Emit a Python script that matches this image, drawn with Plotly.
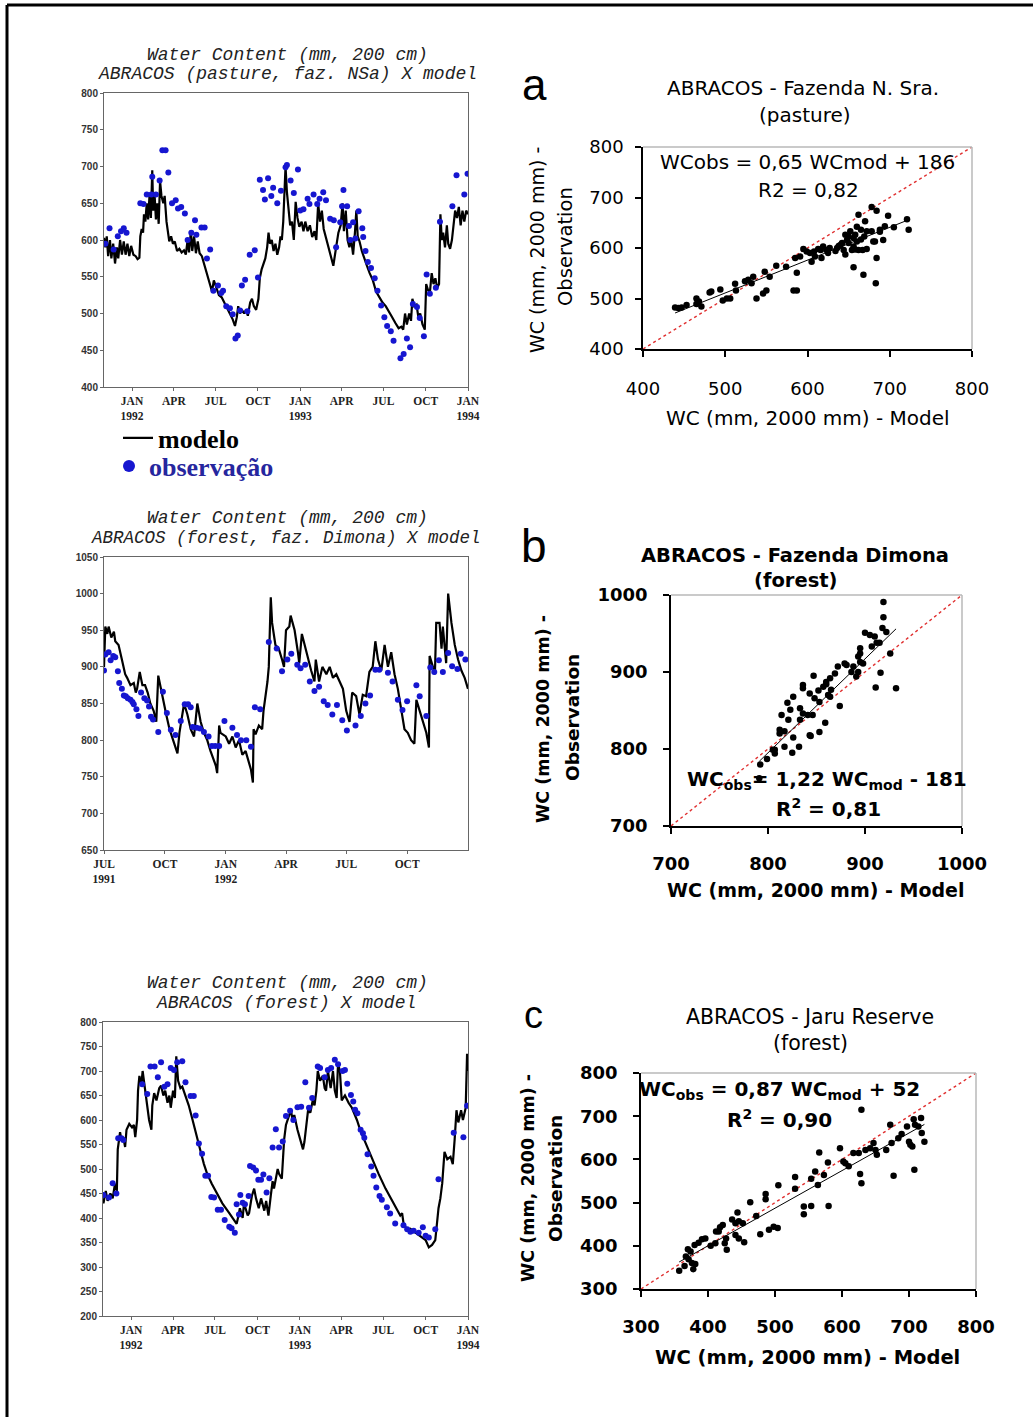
import plotly.graph_objects as go

W, H = 1033, 1417

# ---------------- séries temporais (GrADS) ----------------
# Fazenda N. Sra. (pastagem) - modelo
nsa_mod_dates = ["1991-11-01","1991-11-04","1991-11-07","1991-11-10","1991-11-14","1991-11-17","1991-11-21","1991-11-25","1991-11-29",
                 "1991-12-02","1991-12-06","1991-12-10","1991-12-14","1991-12-18","1991-12-22","1991-12-26","1991-12-30",
                 "1992-01-04","1992-01-09","1992-01-13","1992-01-17","1992-01-19","1992-01-22","1992-01-25","1992-01-27","1992-01-30",
                 "1992-02-02","1992-02-05","1992-02-08","1992-02-11","1992-02-14","1992-02-16","1992-02-19","1992-02-22","1992-02-25","1992-02-28",
                 "1992-03-02","1992-03-05","1992-03-09","1992-03-12","1992-03-16","1992-03-19","1992-03-22","1992-03-26","1992-03-30",
                 "1992-04-03","1992-04-08","1992-04-13","1992-04-18","1992-04-23","1992-04-27","1992-05-01","1992-05-04","1992-05-08",
                 "1992-05-11","1992-05-15","1992-05-19","1992-05-23","1992-05-27","1992-06-01","1992-06-07","1992-06-13","1992-06-19",
                 "1992-06-23","1992-06-27","1992-07-02","1992-07-08","1992-07-14","1992-07-20","1992-07-26","1992-08-01","1992-08-07",
                 "1992-08-12","1992-08-16","1992-08-19","1992-08-23","1992-08-27","1992-09-01","1992-09-05","1992-09-09","1992-09-14",
                 "1992-09-18","1992-09-22","1992-09-27","1992-10-02","1992-10-05","1992-10-09","1992-10-13","1992-10-17","1992-10-21",
                 "1992-10-24","1992-10-27","1992-10-31","1992-11-04","1992-11-08","1992-11-12","1992-11-16","1992-11-19","1992-11-22",
                 "1992-11-25","1992-11-28","1992-11-30","1992-12-03","1992-12-06","1992-12-10","1992-12-14","1992-12-18","1992-12-22",
                 "1992-12-26","1992-12-30","1993-01-04","1993-01-08","1993-01-12","1993-01-17","1993-01-22","1993-01-27","1993-02-01",
                 "1993-02-05","1993-02-09","1993-02-13","1993-02-17","1993-02-21","1993-02-25","1993-03-03","1993-03-09","1993-03-14",
                 "1993-03-20","1993-03-25","1993-03-30","1993-04-03","1993-04-06","1993-04-10","1993-04-14","1993-04-18","1993-04-22",
                 "1993-04-26","1993-04-30","1993-05-03","1993-05-06","1993-05-10","1993-05-15","1993-05-20","1993-05-26","1993-06-01",
                 "1993-06-08","1993-06-15","1993-06-22","1993-06-29","1993-07-06","1993-07-13","1993-07-20","1993-07-27","1993-08-03",
                 "1993-08-09","1993-08-13","1993-08-17","1993-08-21","1993-08-26","1993-08-30","1993-09-02","1993-09-06","1993-09-11",
                 "1993-09-15","1993-09-19","1993-09-24","1993-09-29","1993-10-02","1993-10-06","1993-10-10","1993-10-14","1993-10-18",
                 "1993-10-22","1993-10-26","1993-10-30","1993-11-02","1993-11-05","1993-11-08","1993-11-12","1993-11-16","1993-11-19",
                 "1993-11-23","1993-11-27","1993-12-01","1993-12-04","1993-12-08","1993-12-12","1993-12-16","1993-12-20","1993-12-24",
                 "1993-12-28","1994-01-01"]
nsa_mod_vals = [603,590,605,578,600,575,595,568,590,
                575,600,580,598,580,595,578,592,
                580,578,574,576,605,615,610,635,625,
                650,628,660,630,695,640,662,628,650,622,
                680,660,650,660,625,610,598,605,595,
                598,585,588,583,586,580,600,583,612,
                585,605,582,598,582,578,565,552,540,
                530,545,535,525,522,515,508,500,492,
                483,495,510,500,505,500,505,497,515,
                520,510,505,520,548,560,568,575,590,
                610,595,600,585,595,580,590,605,600,
                625,660,700,665,640,620,625,600,652,
                630,618,625,612,625,612,620,604,612,
                600,650,625,640,615,605,590,578,565,
                590,610,620,650,612,640,600,590,600,
                580,610,640,605,598,585,575,565,555,
                545,530,522,515,510,503,495,487,480,
                482,478,500,485,500,490,520,510,512,
                495,500,485,478,540,532,528,555,540,
                548,535,540,635,600,610,590,620,595,
                588,600,625,640,630,645,620,640,625,
                640,635]

# Fazenda N. Sra. - observação
nsa_obs_dates = ["1991-11-04","1991-11-13","1991-11-22","1991-12-01","1991-12-08","1991-12-14","1991-12-20","1992-01-19","1992-01-26",
                 "1992-02-02","1992-02-12","1992-02-14","1992-02-22","1992-03-01","1992-03-07","1992-03-14","1992-03-20","1992-03-28",
                 "1992-04-05","1992-04-10","1992-04-17","1992-04-25","1992-05-01","1992-05-09","1992-05-17","1992-05-20","1992-05-31",
                 "1992-06-07","1992-06-12","1992-06-19","1992-06-26","1992-07-06","1992-07-13","1992-07-17","1992-07-24","1992-08-01",
                 "1992-08-07","1992-08-13","1992-08-18","1992-08-23","1992-08-27","1992-09-03","1992-09-08","1992-09-13","1992-09-24",
                 "1992-10-01","1992-10-05","1992-10-12","1992-10-16","1992-10-23","1992-10-30","1992-11-03","1992-11-12","1992-11-20",
                 "1992-11-30","1992-12-03","1992-12-11","1992-12-18","1992-12-27","1993-01-01","1993-01-08","1993-01-17","1993-01-21",
                 "1993-01-30","1993-02-07","1993-02-12","1993-02-20","1993-02-26","1993-03-07","1993-03-15","1993-03-20","1993-03-29",
                 "1993-04-02","1993-04-05","1993-04-13","1993-04-17","1993-04-20","1993-04-26","1993-05-01","1993-05-08","1993-05-16",
                 "1993-05-18","1993-05-23","1993-05-28","1993-06-04","1993-06-12","1993-06-18","1993-06-26","1993-07-03","1993-07-09",
                 "1993-07-17","1993-07-23","1993-08-07","1993-08-14","1993-08-21","1993-08-28","1993-09-03","1993-09-12","1993-09-18",
                 "1993-09-27","1993-10-03","1993-10-10","1993-10-23","1993-11-01","1993-11-28","1993-12-07","1993-12-24","1993-12-31"]
nsa_obs_vals = [595,616,587,605,612,616,610,650,649,
                662,662,686,662,681,722,722,692,650,
                654,643,645,636,600,610,627,607,617,
                617,575,587,531,538,528,531,510,507,
                499,466,470,504,538,546,503,580,586,
                549,682,668,655,684,660,671,650,667,
                699,702,681,664,696,640,642,656,649,
                662,649,656,665,654,629,627,590,624,
                646,668,646,619,600,624,602,639,616,
                604,585,570,562,548,531,511,495,483,
                476,463,439,445,466,454,513,509,494,
                469,553,527,535,625,646,688,662,690]

# Fazenda Dimona (floresta) - modelo
dim_mod_dates = ["1991-07-01","1991-07-03","1991-07-06","1991-07-08","1991-07-12","1991-07-16","1991-07-18","1991-07-23","1991-07-28",
                 "1991-08-02","1991-08-05","1991-08-10","1991-08-15","1991-08-18","1991-08-20","1991-08-24","1991-08-28","1991-09-01",
                 "1991-09-05","1991-09-09","1991-09-14","1991-09-18","1991-09-21","1991-09-27","1991-10-03","1991-10-08","1991-10-13",
                 "1991-10-18","1991-10-20","1991-10-23","1991-10-30","1991-11-04","1991-11-09","1991-11-14","1991-11-19","1991-11-24",
                 "1991-11-29","1991-12-04","1991-12-09","1991-12-17","1991-12-19","1991-12-22","1991-12-24","1992-01-01","1992-01-06",
                 "1992-01-11","1992-01-16","1992-01-21","1992-01-26","1992-01-31","1992-02-08","1992-02-11","1992-02-12","1992-02-15",
                 "1992-02-20","1992-02-25","1992-02-27","1992-03-04","1992-03-06","1992-03-09","1992-03-11","1992-03-16","1992-03-21",
                 "1992-03-26","1992-03-29","1992-04-01","1992-04-06","1992-04-08","1992-04-14","1992-04-19","1992-04-21","1992-04-25",
                 "1992-04-29","1992-05-04","1992-05-09","1992-05-14","1992-05-16","1992-05-21","1992-05-26","1992-06-01","1992-06-06",
                 "1992-06-11","1992-06-16","1992-06-21","1992-06-26","1992-07-01","1992-07-06","1992-07-10","1992-07-16","1992-07-21",
                 "1992-07-26","1992-07-31","1992-08-05","1992-08-10","1992-08-14","1992-08-18","1992-08-23","1992-08-28","1992-09-02",
                 "1992-09-07","1992-09-12","1992-09-17","1992-09-22","1992-09-27","1992-10-02","1992-10-07","1992-10-12","1992-10-15",
                 "1992-10-20","1992-10-25","1992-10-30","1992-11-03","1992-11-04","1992-11-09","1992-11-12","1992-11-14","1992-11-19",
                 "1992-11-22","1992-11-24","1992-11-29","1992-12-02","1992-12-07","1992-12-12","1992-12-17","1992-12-22","1992-12-27",
                 "1993-01-01"]
dim_mod_vals = [900,955,945,955,940,948,935,930,910,
                890,885,875,878,865,870,893,875,875,
                865,850,840,825,888,860,835,815,800,
                785,782,810,850,835,815,805,850,825,
                810,800,785,765,755,820,810,805,795,
                805,790,800,780,785,760,742,815,808,
                820,815,840,880,900,995,960,930,925,
                910,900,950,955,970,950,920,905,945,
                930,915,895,880,910,880,900,890,900,
                885,890,880,870,840,825,865,860,835,
                862,860,893,900,935,910,895,930,900,
                920,890,870,840,815,810,800,795,855,
                840,825,810,790,915,900,890,960,960,
                925,955,905,1000,960,930,910,895,885,
                870]

# Fazenda Dimona - observação
dim_obs_dates = ["1991-07-01","1991-07-03","1991-07-08","1991-07-11","1991-07-15","1991-07-18","1991-07-22","1991-07-24","1991-07-28",
                 "1991-07-31","1991-08-03","1991-08-06","1991-08-10","1991-08-13","1991-08-15","1991-08-19","1991-08-22","1991-08-26",
                 "1991-08-31","1991-09-04","1991-09-07","1991-09-10","1991-09-13","1991-09-21","1991-09-28","1991-10-04","1991-10-10",
                 "1991-10-17","1991-10-25","1991-10-31","1991-11-05","1991-11-09","1991-11-12","1991-11-18","1991-11-23","1991-11-29",
                 "1991-12-06","1991-12-11","1991-12-16","1991-12-22","1991-12-30","1992-01-11","1992-01-18","1992-01-24","1992-02-01",
                 "1992-02-08","1992-02-14","1992-02-22","1992-03-06","1992-03-18","1992-03-26","1992-04-03","1992-04-09","1992-04-18",
                 "1992-04-23","1992-04-30","1992-05-07","1992-05-14","1992-05-21","1992-05-28","1992-06-03","1992-06-10","1992-06-17",
                 "1992-06-25","1992-07-02","1992-07-15","1992-07-23","1992-07-30","1992-08-06","1992-08-14","1992-08-20","1992-09-02",
                 "1992-09-09","1992-09-17","1992-09-24","1992-10-01","1992-10-15","1992-10-20","1992-10-30","1992-11-05","1992-11-11",
                 "1992-11-18","1992-11-24","1992-12-02","1992-12-08","1992-12-16","1992-12-21","1992-12-28"]
dim_obs_vals = [895,917,920,909,915,913,894,878,870,
                861,860,857,855,852,849,842,833,865,
                857,854,846,832,828,811,866,837,814,
                807,826,849,849,845,818,817,816,811,
                805,792,792,792,826,817,807,800,800,
                791,845,842,934,925,894,910,918,903,
                898,903,880,867,873,853,848,835,848,
                827,813,820,833,850,861,896,896,892,
                880,855,841,853,875,860,833,899,893,
                909,893,919,901,897,918,910]

# Reserva Jaru (floresta) - modelo
jar_mod_dates = ["1991-11-01","1991-11-02","1991-11-07","1991-11-11","1991-11-17","1991-11-22","1991-11-27","1991-12-01","1991-12-03",
                 "1991-12-08","1991-12-11","1991-12-15","1991-12-19","1991-12-22","1991-12-28","1992-01-03","1992-01-07","1992-01-10",
                 "1992-01-14","1992-01-16","1992-01-19","1992-01-23","1992-01-26","1992-02-03","1992-02-09","1992-02-14","1992-02-16",
                 "1992-02-20","1992-02-25","1992-03-02","1992-03-06","1992-03-11","1992-03-15","1992-03-20","1992-03-24","1992-03-27",
                 "1992-04-01","1992-04-05","1992-04-08","1992-04-12","1992-04-17","1992-04-21","1992-04-28","1992-05-05","1992-05-12",
                 "1992-05-16","1992-05-23","1992-05-31","1992-06-07","1992-06-14","1992-06-24","1992-07-06","1992-07-17","1992-08-01",
                 "1992-08-12","1992-08-17","1992-08-21","1992-08-24","1992-08-30","1992-09-02","1992-09-10","1992-09-13","1992-09-19",
                 "1992-09-24","1992-09-28","1992-10-04","1992-10-09","1992-10-16","1992-10-20","1992-10-25","1992-10-30","1992-11-03",
                 "1992-11-06","1992-11-14","1992-11-17","1992-11-23","1992-11-28","1992-12-02","1992-12-09","1992-12-13","1992-12-16",
                 "1992-12-20","1992-12-27","1993-01-04","1993-01-08","1993-01-11","1993-01-19","1993-01-24","1993-01-29","1993-02-02",
                 "1993-02-06","1993-02-09","1993-02-14","1993-02-20","1993-02-24","1993-02-27","1993-03-03","1993-03-09","1993-03-14",
                 "1993-03-18","1993-03-22","1993-03-25","1993-03-29","1993-04-02","1993-04-09","1993-04-17","1993-04-24","1993-05-05",
                 "1993-05-12","1993-05-23","1993-06-07","1993-06-21","1993-07-06","1993-07-20","1993-07-31","1993-08-07","1993-08-11",
                 "1993-08-14","1993-08-22","1993-08-29","1993-09-09","1993-09-16","1993-09-25","1993-10-01","1993-10-08","1993-10-15",
                 "1993-10-22","1993-10-29","1993-11-02","1993-11-06","1993-11-11","1993-11-17","1993-11-24","1993-11-29","1993-12-03",
                 "1993-12-07","1993-12-11","1993-12-17","1993-12-21","1993-12-27","1993-12-30","1994-01-01"]
jar_mod_vals = [440,430,455,435,450,440,470,455,540,
                575,560,565,545,580,592,585,590,565,
                600,660,690,670,700,640,600,580,630,
                655,640,665,670,650,660,635,650,625,
                660,645,730,680,665,668,650,630,605,
                590,560,535,510,490,470,450,430,410,
                395,388,405,420,400,430,405,410,445,
                460,440,420,440,415,435,405,445,475,
                460,500,490,480,560,590,610,620,600,
                610,580,555,540,555,620,615,640,630,
                660,700,680,690,665,660,700,665,700,
                660,645,715,700,640,650,635,625,600,
                580,555,520,490,460,435,415,405,410,
                390,375,378,370,365,358,355,340,345,
                355,420,440,470,535,520,525,510,560,
                620,595,620,600,625,735,700]

# Reserva Jaru - observação
jar_obs_dates = ["1991-11-02","1991-11-14","1991-11-22","1991-11-30","1991-12-04","1991-12-11","1991-12-15","1992-01-25","1992-02-05",
                 "1992-02-12","1992-02-21","1992-02-28","1992-03-06","1992-03-13","1992-03-20","1992-03-27","1992-04-03","1992-04-10",
                 "1992-04-21","1992-04-28","1992-05-09","1992-05-16","1992-05-20","1992-05-27","1992-06-03","1992-06-10","1992-06-16",
                 "1992-06-23","1992-06-29","1992-07-07","1992-07-14","1992-07-22","1992-08-01","1992-08-06","1992-08-13","1992-08-17",
                 "1992-08-22","1992-08-25","1992-08-30","1992-09-04","1992-09-12","1992-09-15","1992-09-22","1992-09-28","1992-10-03",
                 "1992-10-09","1992-10-14","1992-10-21","1992-10-27","1992-11-03","1992-11-10","1992-11-17","1992-11-25","1992-12-02",
                 "1992-12-11","1992-12-18","1992-12-27","1993-01-04","1993-01-13","1993-01-21","1993-01-28","1993-02-09","1993-02-14",
                 "1993-02-24","1993-03-03","1993-03-10","1993-03-18","1993-03-25","1993-04-04","1993-04-09","1993-04-14","1993-04-22",
                 "1993-04-27","1993-05-01","1993-05-06","1993-05-13","1993-05-18","1993-05-21","1993-05-28","1993-06-05","1993-06-10",
                 "1993-06-16","1993-06-23","1993-06-28","1993-07-09","1993-07-16","1993-07-27","1993-08-14","1993-08-22","1993-08-29",
                 "1993-09-05","1993-09-16","1993-09-25","1993-10-01","1993-10-08","1993-10-22","1993-10-29","1993-12-01","1993-12-22",
                 "1993-12-30"]
jar_obs_vals = [447,442,471,450,563,563,559,673,653,
                709,709,687,718,668,673,706,702,718,
                720,677,649,649,609,552,531,486,486,
                443,442,417,417,396,382,379,370,428,
                407,447,431,428,445,506,503,497,478,
                478,489,452,481,544,581,544,556,608,
                619,600,626,627,677,625,645,709,706,
                687,702,706,723,714,700,702,674,651,
                638,621,614,580,573,564,530,505,486,
                462,445,437,422,409,389,385,377,372,
                374,370,381,364,360,377,479,574,565,
                629]

ts_ticks_9294 = ["1992-01-01","1992-04-01","1992-07-01","1992-10-01","1993-01-01",
                 "1993-04-01","1993-07-01","1993-10-01","1994-01-01"]
ts_labels_9294 = ["JAN<br>1992","APR","JUL","OCT","JAN<br>1993","APR","JUL","OCT","JAN<br>1994"]
ts_ticks_9193 = ["1991-07-01","1991-10-01","1992-01-01","1992-04-01","1992-07-01","1992-10-01"]
ts_labels_9193 = ["JUL<br>1991","OCT","JAN<br>1992","APR","JUL","OCT"]

# ---------------- dispersão: observado x modelo ----------------
nsa_sc_mod = [439,443,447,453,465,468,471,465,481,483,494,497,502,506,512,513,524,528,532,534,
              538,546,550,548,554,562,574,583,587,587,585,591,595,599,603,605,609,613,617,619,
              625,627,634,638,642,644,646,648,650,652,654,656,658,660,662,665,669,656,662,658,
              667,672,670,678,684,680,684,688,692,694,698,705,668,683,682,721,723,688,678,665,
              646,636,623,616,608,640,660,650,656,672]
nsa_sc_obs = [482,481,482,487,500,494,484,489,512,514,518,496,500,500,529,516,534,537,530,543,
              500,510,516,553,543,565,563,516,516,551,580,583,598,593,590,573,583,598,580,603,
              590,600,594,604,610,596,626,616,610,633,596,620,626,642,666,636,623,562,596,597,
              596,598,653,681,674,613,580,636,616,643,664,641,547,530,613,657,636,632,633,617,
              587,600,596,596,593,606,613,623,603,633]

dim_sc_mod = [792,791,799,807,807,814,812,817,820,826,817,826,825,832,833,836,836,841,843,844,
              846,848,847,852,853,853,859,857,860,864,865,869,874,872,879,881,886,893,893,895,
              895,898,900,905,907,910,912,915,916,911,918,919,919,922,926,932,891,862,833,823,
              836,843,864,888,895,860,812,805,821]
dim_sc_obs = [780,762,787,799,794,844,825,823,860,868,803,815,795,803,853,883,846,844,818,817,
              844,866,895,876,861,822,834,881,887,892,877,898,856,907,911,909,900,900,920,931,
              913,911,951,948,933,946,938,938,899,880,957,971,991,952,924,879,894,870,838,851,
              879,872,868,907,924,884,820,799,838]

jar_sc_mod = [357,365,367,370,371,374,376,378,381,380,386,391,396,404,411,412,418,422,416,425,
              428,427,436,441,441,444,446,446,452,454,463,472,478,486,486,491,498,504,505,530,
              530,543,543,554,554,560,564,566,573,579,580,597,602,605,610,617,625,627,629,629,
              635,642,650,652,647,672,674,677,684,689,697,700,705,707,708,714,718,719,723,709,
              702,666]
jar_sc_obs = [342,353,375,392,369,387,360,346,358,402,407,415,417,400,406,433,443,448,433,406,
              391,417,461,425,452,477,417,457,452,408,501,469,427,508,520,437,444,441,540,532,
              559,473,491,492,555,572,541,616,564,593,492,626,595,591,584,615,615,566,545,715,
              622,626,622,611,638,680,638,562,649,659,676,641,630,693,576,676,696,661,641,680,
              634,622]

# regressões (inclinação, intercepto) e limites dos eixos
fit_nsa = (0.65, 186)
fit_dim = (1.22, -181)
fit_jar = (0.87, 52)
lim_nsa = [400, 800]
lim_dim = [700, 1000]
lim_jar = [300, 800]

BLUE = "#1616d0"
GREY = "#666666"


def fx(p):
    return p / W


def fy(p):
    return 1 - p / H


fig = go.Figure()

# séries temporais
fig.add_trace(go.Scatter(x=nsa_mod_dates, y=nsa_mod_vals, mode="lines", line=dict(color="black", width=2.2),
                         name="<b>modelo</b>", xaxis="x", yaxis="y", showlegend=True, legend="legend"))
fig.add_trace(go.Scatter(x=nsa_obs_dates, y=nsa_obs_vals, mode="markers", marker=dict(color=BLUE, size=6),
                         name="<b><span style='color:#26269e'>observação</span></b>", xaxis="x", yaxis="y",
                         showlegend=True, legend="legend2"))
fig.add_trace(go.Scatter(x=dim_mod_dates, y=dim_mod_vals, mode="lines", line=dict(color="black", width=2.2),
                         xaxis="x3", yaxis="y3", showlegend=False))
fig.add_trace(go.Scatter(x=dim_obs_dates, y=dim_obs_vals, mode="markers", marker=dict(color=BLUE, size=6),
                         xaxis="x3", yaxis="y3", showlegend=False))
fig.add_trace(go.Scatter(x=jar_mod_dates, y=jar_mod_vals, mode="lines", line=dict(color="black", width=2.2),
                         xaxis="x5", yaxis="y5", showlegend=False))
fig.add_trace(go.Scatter(x=jar_obs_dates, y=jar_obs_vals, mode="markers", marker=dict(color=BLUE, size=6),
                         xaxis="x5", yaxis="y5", showlegend=False))

# dispersões
for xs, ys, fit, lim, ax in [(nsa_sc_mod, nsa_sc_obs, fit_nsa, lim_nsa, "2"),
                             (dim_sc_mod, dim_sc_obs, fit_dim, lim_dim, "4"),
                             (jar_sc_mod, jar_sc_obs, fit_jar, lim_jar, "6")]:
    fig.add_trace(go.Scatter(x=lim, y=lim, mode="lines", line=dict(color="#e03030", width=1.4, dash="dot"),
                             xaxis="x" + ax, yaxis="y" + ax, showlegend=False))
    fig.add_trace(go.Scatter(x=xs, y=ys, mode="markers", marker=dict(color="black", size=6.5),
                             xaxis="x" + ax, yaxis="y" + ax, showlegend=False))
    x0, x1 = min(xs), max(xs)
    fig.add_trace(go.Scatter(x=[x0, x1], y=[fit[0] * x0 + fit[1], fit[0] * x1 + fit[1]], mode="lines",
                             line=dict(color="black", width=1), xaxis="x" + ax, yaxis="y" + ax, showlegend=False))

# eixos das séries temporais
def ts_x(l, r, rng, vals, text):
    return dict(domain=[fx(l), fx(r)], range=rng, type="date", tickvals=vals, ticktext=text,
                showline=True, linecolor=GREY, linewidth=1, mirror=True, ticks="outside", ticklen=3,
                tickcolor=GREY, showgrid=False, zeroline=False, tickangle=0, automargin=False,
                tickfont=dict(family="Liberation Serif", size=11.5, color="#222", weight="bold"))


def ts_y(t, b, rng, anchor):
    return dict(domain=[fy(b), fy(t)], range=rng, dtick=50, anchor=anchor,
                showline=True, linecolor=GREY, linewidth=1, mirror=True, ticks="outside", ticklen=3,
                tickcolor=GREY, showgrid=False, zeroline=False, ticklabelstandoff=0, automargin=False,
                tickfont=dict(family="Liberation Sans", size=10, color="#333", weight="bold"))


def sc_axis(a, b, rng, bold, vertical, anchor, standoff):
    if vertical:
        dom = [fy(b), fy(a)]
    else:
        dom = [fx(a), fx(b)]
    return dict(domain=dom, range=rng, dtick=100, anchor=anchor, showline=True, linecolor="black",
                linewidth=1.5, mirror=False, ticks="outside", ticklen=6, tickwidth=1.5, tickcolor="black",
                showgrid=False, zeroline=False, ticklabelstandoff=standoff, automargin=False,
                tickfont=dict(family="DejaVu Sans", size=18, color="black",
                              weight="bold" if bold else "normal"))


legend_font = dict(family="Liberation Serif", size=26, color="black")
layout = dict(
    width=W, height=H, margin=dict(l=0, r=0, t=0, b=0, autoexpand=False),
    paper_bgcolor="white", plot_bgcolor="white",
    xaxis=ts_x(104, 468, ["1991-11-01", "1994-01-01"], ts_ticks_9294, ts_labels_9294) | dict(anchor="y"),
    yaxis=ts_y(93, 387, [400, 800], "x"),
    xaxis3=ts_x(104, 468, ["1991-07-01", "1993-01-01"], ts_ticks_9193, ts_labels_9193) | dict(anchor="y3"),
    yaxis3=ts_y(557, 850, [650, 1050], "x3"),
    xaxis5=ts_x(103, 468, ["1991-11-01", "1994-01-01"], ts_ticks_9294, ts_labels_9294) | dict(anchor="y5"),
    yaxis5=ts_y(1022, 1316, [200, 800], "x5"),
    xaxis2=sc_axis(643, 972, lim_nsa, False, False, "y2", 17),
    yaxis2=sc_axis(147, 349, lim_nsa, False, True, "x2", 8),
    xaxis4=sc_axis(671, 962, lim_dim, True, False, "y4", 15),
    yaxis4=sc_axis(595, 826, lim_dim, True, True, "x4", 12),
    xaxis6=sc_axis(641, 976, lim_jar, True, False, "y6", 15),
    yaxis6=sc_axis(1073, 1289, lim_jar, True, True, "x6", 12),
    showlegend=True,
    legend=dict(x=fx(118), y=fy(438), xanchor="left", yanchor="middle", bgcolor="rgba(0,0,0,0)",
                font=legend_font, itemwidth=30),
    legend2=dict(x=fx(109), y=fy(466), xanchor="left", yanchor="middle", bgcolor="rgba(0,0,0,0)",
                 font=legend_font, itemwidth=30, itemsizing="constant"),
)
fig.update_layout(**layout)


def note(text, x, y, size, family="DejaVu Sans", bold=False, angle=0, color="black"):
    return dict(text=text, x=fx(x), y=fy(y), xref="paper", yref="paper", showarrow=False,
                xanchor="center", yanchor="middle", textangle=angle,
                font=dict(family=family, size=size, color=color, weight="bold" if bold else "normal"))


mono = "Liberation Mono"
tcol = "#222222"
anns = [
    # títulos GrADS
    note("<i>Water Content (mm, 200 cm)</i>", 287, 55, 18, mono, color=tcol),
    note("<i>ABRACOS (pasture, faz. NSa) X model</i>", 287, 74, 18, mono, color=tcol),
    note("<i>Water Content (mm, 200 cm)</i>", 287, 518, 18, mono, color=tcol),
    note("<i>ABRACOS (forest, faz. Dimona) X model</i>", 286, 538, 17.5, mono, color=tcol),
    note("<i>Water Content (mm, 200 cm)</i>", 287, 983, 18, mono, color=tcol),
    note("<i>ABRACOS (forest) X model</i>", 286, 1003, 18, mono, color=tcol),
    # painel a
    note("a", 534, 84, 44, "Liberation Sans"),
    note("ABRACOS - Fazenda N. Sra.", 803, 88, 20),
    note("(pasture)", 805, 115, 20),
    note("WCobs = 0,65 WCmod + 186", 807, 162, 20),
    note("R2 = 0,82", 808, 190, 20),
    note("WC (mm, 2000 mm) - Model", 808, 418, 20),
    note("WC (mm, 2000 mm) -", 537, 250, 19, angle=-90),
    note("Observation", 565, 247, 19.5, angle=-90),
    # painel b
    note("b", 534, 546, 46, "Liberation Sans"),
    note("ABRACOS - Fazenda Dimona", 795, 555, 19.5, bold=True),
    note("(forest)", 795, 580, 19.5, bold=True),
    note("WC<sub>obs</sub>= 1,22 WC<sub>mod</sub> - 181", 827, 780, 20, bold=True),
    note("R<sup>2</sup> = 0,81", 828, 808, 20, bold=True),
    note("WC (mm, 2000 mm) - Model", 815, 890, 19, bold=True),
    note("WC (mm, 2000 mm) -", 543, 719, 17.5, bold=True, angle=-90),
    note("Observation", 572, 718, 18.5, bold=True, angle=-90),
    # painel c
    note("c", 533, 1015, 38, "Liberation Sans"),
    note("ABRACOS - Jaru Reserve", 810, 1017, 20.5),
    note("(forest)", 810, 1043, 20.5),
    note("WC<sub>obs</sub> = 0,87 WC<sub>mod</sub> + 52", 779, 1090, 20, bold=True),
    note("R<sup>2</sup> = 0,90", 779, 1119, 20, bold=True),
    note("WC (mm, 2000 mm) - Model", 807, 1357, 19.5, bold=True),
    note("WC (mm, 2000 mm) -", 528, 1178, 17.5, bold=True, angle=-90),
    note("Observation", 555, 1179, 18.5, bold=True, angle=-90),
]
fig.update_layout(annotations=anns)

shapes = [
    # moldura da página (topo e esquerda)
    dict(type="line", xref="paper", yref="paper", x0=fx(7), x1=1, y0=fy(5), y1=fy(5),
         line=dict(color="black", width=3)),
    dict(type="line", xref="paper", yref="paper", x0=fx(7), x1=fx(7), y0=fy(5), y1=0,
         line=dict(color="black", width=3)),
]
for ax in ["2", "4", "6"]:
    shapes.append(dict(type="line", xref="x%s domain" % ax, yref="y%s domain" % ax, x0=0, x1=1, y0=1, y1=1,
                       line=dict(color="#b8b8b8", width=1.5)))
    shapes.append(dict(type="line", xref="x%s domain" % ax, yref="y%s domain" % ax, x0=1, x1=1, y0=0, y1=1,
                       line=dict(color="#b8b8b8", width=1.5)))
fig.update_layout(shapes=shapes)

# sem margem do <body>, para a figura ocupar a janela inteira
fig.write_html("out.html", config={"displayModeBar": False},
               post_script="document.body.style.margin='0';document.body.style.overflow='hidden';")
